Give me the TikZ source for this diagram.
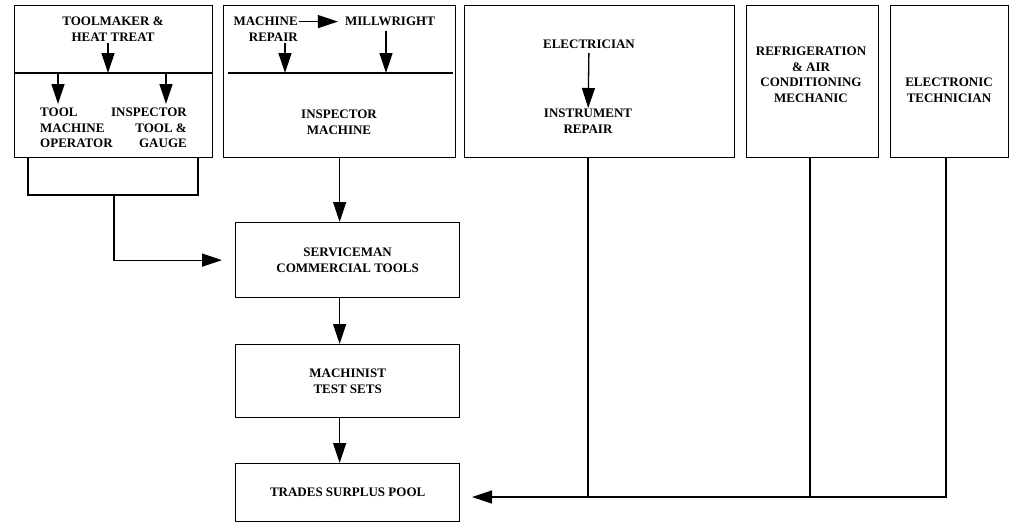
\documentclass[tikz,border=0pt]{standalone}
\usepackage{fontspec}
\setmainfont{Liberation Serif}
\usetikzlibrary{positioning,arrows.meta,calc}
\tikzset{
  fig/.style={font=\fontsize{13}{15.5}\selectfont\bfseries},
  frame/.style={draw,line width=1.3pt,inner sep=0pt,anchor=north west},
  lbl/.style={align=center,inner sep=1pt},
  ln/.style={-{Triangle[length=20pt,width=13pt]},line width=1.3pt},
  bus/.style={line width=1.3pt},
}
\begin{document}
\begin{tikzpicture}[fig,x=1pt,y=-1pt]
\useasboundingbox (0,0) rectangle (1011,522);

% top row of trade boxes
\node[frame,minimum width=198,minimum height=152] (tmbox) at (14,5) {};
\node[frame,minimum width=232,minimum height=152] (mrbox) at (223,5) {};
\node[frame,minimum width=270,minimum height=152] (elbox) at (464,5) {};
\node[frame,minimum width=132,minimum height=152] (rfbox) at (746,5) {};
\node[frame,minimum width=118,minimum height=152] (etbox) at (890,5) {};

% middle column
\node[frame,minimum width=224,minimum height=75] (svc) at (235,222) {};
\node[lbl] at (svc.center) {SERVICEMAN\\COMMERCIAL TOOLS};
\node[frame,minimum width=224,minimum height=73] (mach) at (235,344) {};
\node[lbl] at (mach.center) {MACHINIST\\TEST SETS};
\node[frame,minimum width=224,minimum height=58] (pool) at (235,463) {};
\node[lbl] at (pool.center) {TRADES SURPLUS POOL};

% toolmaker box
\node[lbl,anchor=north] (toolmaker) at (113,16) {TOOLMAKER \&\\HEAT TREAT};
\node[lbl,align=left,anchor=north west] (toolop) at (39,107) {TOOL\\MACHINE\\OPERATOR};
\node[lbl,align=right,anchor=north east] (toolinsp) at (188,107) {INSPECTOR\\TOOL \&\\GAUGE};
\coordinate (tmA) at (108,73);
\coordinate (tmB) at (58,73);
\coordinate (tmC) at (166,73);
\draw[bus] (tmbox.west |- tmA) -- (tmbox.east |- tmA);
\draw[ln] (toolmaker.south -| tmA) -- (tmA);
\draw[ln,shorten >=3pt] (tmB) -- (tmB |- toolop.north);
\draw[ln,shorten >=3pt] (tmC) -- (tmC |- toolinsp.north);

% machine repair box
\node[lbl,align=right,anchor=north east] (mrep) at (299,16) {MACHINE\\REPAIR};
\node[lbl,anchor=north] (mill) at (390,16) {MILLWRIGHT};
\node[lbl,anchor=north] (minsp) at (339,109) {INSPECTOR\\MACHINE};
\coordinate (mrA) at (285,73);
\coordinate (mrB) at (386,73);
\draw[bus] ([xshift=5pt]mrbox.west |- mrA) -- ([xshift=-3pt]mrbox.east |- mrA);
\draw[ln,shorten >=6pt] (mill.west -| mrep.east) -- (mill.west);
\draw[ln] (mrep.south -| mrA) -- (mrA);
\draw[ln,shorten <=4pt] (mill.south -| mrB) -- (mrB);

% electrician box
\node[lbl,anchor=north] (elec) at (589,39) {ELECTRICIAN};
\node[lbl,anchor=north] (instr) at (588,108) {INSTRUMENT\\REPAIR};
\draw[ln,shorten <=3pt] (elec) -- (instr);

% refrigeration and electronic boxes
\node[lbl,anchor=north] (refrig) at (811,46) {REFRIGERATION\\\& AIR\\CONDITIONING\\MECHANIC};
\node[lbl,anchor=north] (etech) at (949,77) {ELECTRONIC\\TECHNICIAN};

% toolmaker outputs to serviceman
\coordinate (brL) at (28,195);
\coordinate (brR) at (198,195);
\coordinate (brM) at (114,195);
\draw[bus] (tmbox.south -| brL) -- (brL) -- (brR) -- (tmbox.south -| brR);
\draw[ln] (brM) |- ([xshift=-13pt]svc.west);

% down the middle column
\draw[ln] (mrbox.south) -- (mrbox.south |- svc.north);
\draw[ln] (svc.south -| mrbox.south) -- (mach.north -| mrbox.south);
\draw[ln] (mach.south -| mrbox.south) -- (pool.north -| mrbox.south);

% return line to the pool
\coordinate (busA) at (588,497);
\coordinate (busB) at (810,497);
\coordinate (busC) at (946,497);
\coordinate (poolin) at (472,497);
\draw[bus] (elbox.south -| busA) -- (busA);
\draw[bus] (rfbox.south -| busB) -- (busB);
\draw[ln] (etbox.south -| busC) -- (busC) -- (poolin);
\end{tikzpicture}
\end{document}
